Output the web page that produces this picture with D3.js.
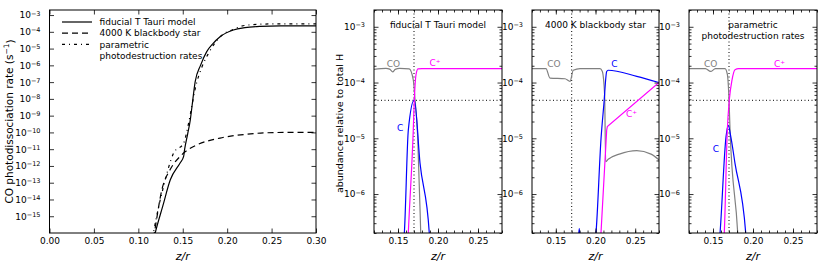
<!DOCTYPE html>
<html>
<head>
<meta charset="utf-8">
<script src="https://cdn.jsdelivr.net/npm/d3@7"></script>
<style>
  body { margin: 0; background: #fff; }
  text { font-family: "DejaVu Sans", sans-serif; }
</style>
</head>
<body>
<div id="chart"></div>
<script>
// ---- data: [z/r, value] ----

// left panel: CO photodissociation rate (s^-1)
var rateFiducial = [[0.118, 6e-17], [0.119, 1e-16], [0.1275, 4e-15], [0.136, 1.5e-13], [0.147, 1.5e-12],
  [0.151, 3.7e-12], [0.152, 9e-12], [0.1555, 8e-11], [0.1585, 5.6e-10], [0.1604, 3.5e-9],
  [0.164, 1.07e-7], [0.170, 1e-6], [0.177, 6.6e-6], [0.184, 2e-5], [0.192, 5.1e-5],
  [0.207, 1.29e-4], [0.22, 1.78e-4], [0.237, 2.1e-4], [0.26, 2.24e-4], [0.30, 2.24e-4]];
var rateBlackbody = [[0.117, 5e-17], [0.118, 1e-16], [0.1266, 4e-14], [0.136, 6.3e-13], [0.147, 3.7e-12],
  [0.153, 7.2e-12], [0.166, 1.8e-11], [0.192, 4.6e-11], [0.22, 7.6e-11], [0.245, 9.5e-11],
  [0.27, 1e-10], [0.30, 1e-10]];
var rateParametric = [[0.116, 5e-17], [0.117, 1e-16], [0.1285, 6.3e-14], [0.1398, 5.9e-12], [0.151, 2.3e-11],
  [0.156, 2.5e-10], [0.160, 3.2e-9], [0.164, 4e-8], [0.1717, 8.3e-7], [0.179, 5.2e-6],
  [0.192, 5e-5], [0.207, 1.41e-4], [0.222, 2.5e-4], [0.25, 2.95e-4], [0.30, 3e-4]];

// right panels: abundance relative to total H
var coFiducial = [[0.12, 1.72e-4], [0.135, 1.8e-4], [0.1395, 1.74e-4], [0.1434, 1.55e-4], [0.1465, 1.72e-4],
  [0.152, 1.8e-4], [0.164, 1.76e-4], [0.1691, 1.12e-4], [0.1713, 4.9e-5], [0.1746, 1.07e-5],
  [0.1784, 2e-7], [0.179, 1e-7]];
var cFiducial = [[0.155, 1e-7], [0.1579, 2e-7], [0.1629, 1.41e-5], [0.1704, 4.9e-5], [0.1775, 3.6e-6],
  [0.1891, 2e-7], [0.19, 1e-7]];
var cpFiducial = [[0.162, 1e-7], [0.1629, 2e-7], [0.1691, 1.41e-5], [0.1704, 4.9e-5], [0.1725, 1.38e-4],
  [0.175, 1.76e-4], [0.18, 1.78e-4], [0.28, 1.78e-4]];

var coBlackbody = [[0.12, 1.78e-4], [0.1376, 1.78e-4], [0.1427, 1.2e-4], [0.1616, 1.17e-4], [0.1679, 1.05e-4],
  [0.172, 1.66e-4], [0.1805, 1.78e-4], [0.2057, 1.78e-4], [0.2085, 1.6e-4], [0.2115, 6e-5],
  [0.2128, 3.8e-6], [0.216, 4.2e-6], [0.23, 5.2e-6], [0.252, 6e-6], [0.27, 5.2e-6], [0.28, 4.1e-6]];
var cBlackbody = [[0.12, 1e-7], [0.177, 1e-7], [0.1796, 2.4e-7], [0.1815, 1e-7], [0.198, 1e-7],
  [0.2006, 2e-7], [0.207, 1e-5], [0.2105, 4e-5], [0.2141, 1.58e-4], [0.2158, 1.66e-4],
  [0.252, 1.29e-4], [0.28, 1e-4]];
var cpBlackbody = [[0.205, 1e-7], [0.2069, 2e-7], [0.2141, 1.41e-5], [0.2149, 1.62e-5], [0.28, 1e-4]];

var coParametric = [[0.12, 1.78e-4], [0.1405, 1.78e-4], [0.147, 1.58e-4], [0.153, 1.77e-4], [0.165, 1.78e-4],
  [0.1679, 1.41e-4], [0.170, 5e-5], [0.1713, 1.41e-5], [0.1809, 2e-7], [0.182, 1e-7]];
var cParametric = [[0.157, 1e-7], [0.1588, 2e-7], [0.1663, 1.07e-5], [0.1691, 1.7e-5], [0.172, 1.12e-5],
  [0.1775, 3.55e-6], [0.1909, 2e-7], [0.192, 1e-7]];
var cpParametric = [[0.163, 1e-7], [0.1641, 2e-7], [0.1679, 1.41e-5], [0.1704, 4.9e-5], [0.1738, 1.12e-4],
  [0.1775, 1.7e-4], [0.182, 1.78e-4], [0.28, 1.78e-4]];

// reference lines (dotted)
var refZ = 0.17;
var refAbundance = 4.8e-5;

// ticks
var rateXTicks = [0, 0.05, 0.10, 0.15, 0.20, 0.25, 0.30];
var rateYTicks = [1e-3, 1e-4, 1e-5, 1e-6, 1e-7, 1e-8, 1e-9, 1e-10, 1e-11, 1e-12, 1e-13, 1e-14, 1e-15];
var abXTicks = [0.15, 0.20, 0.25];
var abYTicks = [1e-3, 1e-4, 1e-5, 1e-6];

var legendLabels = [["fiducial T Tauri model"], ["4000 K blackbody star"], ["parametric", "photodestruction rates"]];

// ---- layout ----
var svgWidth = 830;
var svgHeight = 266;
var plotTop = 10, plotBottom = 233;

var svg = d3.select("#chart")
  .append("svg")
  .attr("width", svgWidth)
  .attr("height", svgHeight);

var supMinus = "\u2212";

// write 10^n tick labels with a superscript
function powerLabels(g) {
  g.selectAll(".tick text").each(function(d) {
    var e = Math.round(Math.log10(d));
    var t = d3.select(this).text("");
    t.append("tspan").text("10");
    t.append("tspan")
      .attr("dy", "-0.45em")
      .attr("font-size", "6.5px")
      .text(e < 0 ? supMinus + (-e) : e);
  });
}

function cleanAxis(g) {
  g.select(".domain").remove();
  g.selectAll(".tick line").attr("stroke", "#000").attr("stroke-width", 0.8);
  g.selectAll(".tick text").attr("font-size", "9px").attr("fill", "#000")
    .attr("font-family", "DejaVu Sans, sans-serif");
}

// draws box, ticks on all four sides
function drawFrame(g, x, y, w, h, xMajor, xMinor, yMajor, yMinor, xFmt) {
  g.append("g").attr("transform", `translate(0,${h})`)
    .call(d3.axisBottom(x).tickValues(xMajor).tickSize(-4.5).tickPadding(5).tickFormat(xFmt))
    .call(cleanAxis);
  g.append("g")
    .call(d3.axisTop(x).tickValues(xMajor).tickSize(-4.5).tickFormat(""))
    .call(cleanAxis);
  g.append("g")
    .call(d3.axisLeft(y).tickValues(yMajor).tickSize(-4.5).tickPadding(9))
    .call(cleanAxis).call(powerLabels);
  g.append("g").attr("transform", `translate(${w},0)`)
    .call(d3.axisRight(y).tickValues(yMajor).tickSize(-4.5).tickFormat(""))
    .call(cleanAxis);
  if (xMinor) {
    g.append("g").attr("transform", `translate(0,${h})`)
      .call(d3.axisBottom(x).tickValues(xMinor).tickSize(-2.5).tickFormat("")).call(cleanAxis);
    g.append("g")
      .call(d3.axisTop(x).tickValues(xMinor).tickSize(-2.5).tickFormat("")).call(cleanAxis);
  }
  if (yMinor) {
    g.append("g")
      .call(d3.axisLeft(y).tickValues(yMinor).tickSize(-2.5).tickFormat("")).call(cleanAxis);
    g.append("g").attr("transform", `translate(${w},0)`)
      .call(d3.axisRight(y).tickValues(yMinor).tickSize(-2.5).tickFormat("")).call(cleanAxis);
  }
  g.append("rect")
    .attr("width", w).attr("height", h)
    .attr("fill", "none").attr("stroke", "#000").attr("stroke-width", 1);
}

function xLabel(g, w, h) {
  g.append("text")
    .attr("x", w / 2).attr("y", h + 27)
    .attr("text-anchor", "middle")
    .attr("font-family", "DejaVu Serif, serif")
    .attr("font-style", "italic")
    .attr("font-size", "11px")
    .text("z/r");
}

// ---- left panel: photodissociation rates ----
var p1 = { left: 49.5, right: 316 };
var w1 = p1.right - p1.left, h = plotBottom - plotTop;
var g1 = svg.append("g").attr("transform", `translate(${p1.left},${plotTop})`);

var x1 = d3.scaleLinear().domain([0, 0.30]).range([0, w1]);
var y1 = d3.scaleLog().domain([1e-16, 2e-3]).range([h, 0]);

svg.append("clipPath").attr("id", "clip1")
  .append("rect").attr("width", w1).attr("height", h);

var line1 = d3.line()
  .x(d => x1(d[0]))
  .y(d => y1(d[1]))
  .curve(d3.curveMonotoneX);

var rateSeries = [
  { data: rateFiducial, dash: null },
  { data: rateBlackbody, dash: "6,4" },
  { data: rateParametric, dash: "3,4,1,4" }
];

g1.append("g").attr("clip-path", "url(#clip1)")
  .selectAll("path")
  .data(rateSeries)
  .enter()
  .append("path")
  .attr("d", d => line1(d.data))
  .attr("fill", "none")
  .attr("stroke", "#000")
  .attr("stroke-width", 1.2)
  .attr("stroke-dasharray", d => d.dash);

drawFrame(g1, x1, y1, w1, h, rateXTicks, null, rateYTicks, null, d3.format(".2f"));
xLabel(g1, w1, h);

var yl1 = g1.append("text")
  .attr("transform", `translate(${9 - p1.left},${h / 2}) rotate(-90)`)
  .attr("text-anchor", "middle")
  .attr("dominant-baseline", "central")
  .attr("font-size", "10.5px");
yl1.append("tspan").text("CO photodissociation rate (s");
yl1.append("tspan").attr("dy", "-0.4em").attr("font-size", "7.5px").text(supMinus + "1");
yl1.append("tspan").attr("dy", "0.4em").text(")");

// legend
var legend = g1.append("g").attr("transform", "translate(12.5,12)");
legendLabels.forEach(function(lines, i) {
  var ly = i * 11.2;
  legend.append("line")
    .attr("x1", 0).attr("x2", 30).attr("y1", ly).attr("y2", ly)
    .attr("stroke", "#000").attr("stroke-width", 1.2)
    .attr("stroke-dasharray", rateSeries[i].dash);
  lines.forEach(function(s, j) {
    legend.append("text")
      .attr("x", 37.5).attr("y", ly + 3.2 + j * 11.2)
      .attr("font-size", "9px")
      .text(s);
  });
});

// ---- right panels: abundances ----
var abPanels = [
  { left: 374, right: 502, co: coFiducial, c: cFiducial, cp: cpFiducial, cpStraight: false,
    title: ["fiducial T Tauri model"],
    labels: [["CO", 0.1444, 1.92e-4, "#808080"], ["C\u207A", 0.1962, 1.97e-4, "#ff00ff"], ["C", 0.1528, 1.37e-5, "#0000ff"]] },
  { left: 532, right: 659, co: coBlackbody, c: cBlackbody, cp: cpBlackbody, cpStraight: true,
    title: ["4000 K blackbody star"],
    labels: [["CO", 0.1476, 1.92e-4, "#808080"], ["C", 0.2238, 1.92e-4, "#0000ff"], ["C\u207A", 0.2455, 2.4e-5, "#ff00ff"]] },
  { left: 689, right: 817, co: coParametric, c: cParametric, cp: cpParametric, cpStraight: false,
    title: ["parametric", "photodestruction rates"],
    labels: [["CO", 0.1471, 1.92e-4, "#808080"], ["C\u207A", 0.2330, 1.92e-4, "#ff00ff"], ["C", 0.1535, 5.7e-6, "#0000ff"]] }
];

var abMinorX = d3.range(12, 29).map(v => v / 100);
var abMinorY = [];
for (var e = -7; e <= -3; e++) {
  for (var k = 2; k <= 9; k++) {
    var v = k * Math.pow(10, e);
    if (v >= 2e-7 && v <= 2e-3) abMinorY.push(v);
  }
}

abPanels.forEach(function(p, i) {
  var w = p.right - p.left;
  var g = svg.append("g").attr("transform", `translate(${p.left},${plotTop})`);
  var x = d3.scaleLinear().domain([0.12, 0.28]).range([0, w]);
  var y = d3.scaleLog().domain([2e-7, 2e-3]).range([h, 0]);

  svg.append("clipPath").attr("id", "clipab" + i)
    .append("rect").attr("width", w).attr("height", h);

  var smooth = d3.line()
    .x(d => x(d[0]))
    .y(d => y(d[1]))
    .curve(d3.curveMonotoneX);
  var straight = d3.line()
    .x(d => x(d[0]))
    .y(d => y(d[1]));

  var plot = g.append("g").attr("clip-path", `url(#clipab${i})`);

  // dotted reference lines
  plot.append("line")
    .attr("x1", x(refZ)).attr("x2", x(refZ)).attr("y1", 0).attr("y2", h)
    .attr("stroke", "#000").attr("stroke-width", 1).attr("stroke-dasharray", "1,2.5");
  plot.append("line")
    .attr("x1", 0).attr("x2", w).attr("y1", y(refAbundance)).attr("y2", y(refAbundance))
    .attr("stroke", "#000").attr("stroke-width", 1).attr("stroke-dasharray", "1,2.5");

  var series = [
    { data: p.co, color: "#808080", gen: smooth },
    { data: p.c, color: "#0000ff", gen: smooth },
    { data: p.cp, color: "#ff00ff", gen: p.cpStraight ? straight : smooth }
  ];
  plot.selectAll(".species")
    .data(series)
    .enter()
    .append("path")
    .attr("class", "species")
    .attr("d", d => d.gen(d.data))
    .attr("fill", "none")
    .attr("stroke", d => d.color)
    .attr("stroke-width", 1.2);

  p.labels.forEach(function(l) {
    g.append("text")
      .attr("x", x(l[1])).attr("y", y(l[2]))
      .attr("text-anchor", "middle")
      .attr("font-size", "9px")
      .attr("fill", l[3])
      .text(l[0]);
  });

  p.title.forEach(function(s, j) {
    g.append("text")
      .attr("x", w / 2).attr("y", 18 + j * 11)
      .attr("text-anchor", "middle")
      .attr("font-size", "9px")
      .text(s);
  });

  drawFrame(g, x, y, w, h, abXTicks, abMinorX, abYTicks, abMinorY, d3.format(".2f"));
  xLabel(g, w, h);

  if (i === 0) {
    g.append("text")
      .attr("transform", `translate(${339 - p.left},${h / 2 + 2}) rotate(-90)`)
      .attr("text-anchor", "middle")
      .attr("dominant-baseline", "central")
      .attr("font-size", "9.5px")
      .text("abundance relative to total H");
  }
});
</script>
</body>
</html>
